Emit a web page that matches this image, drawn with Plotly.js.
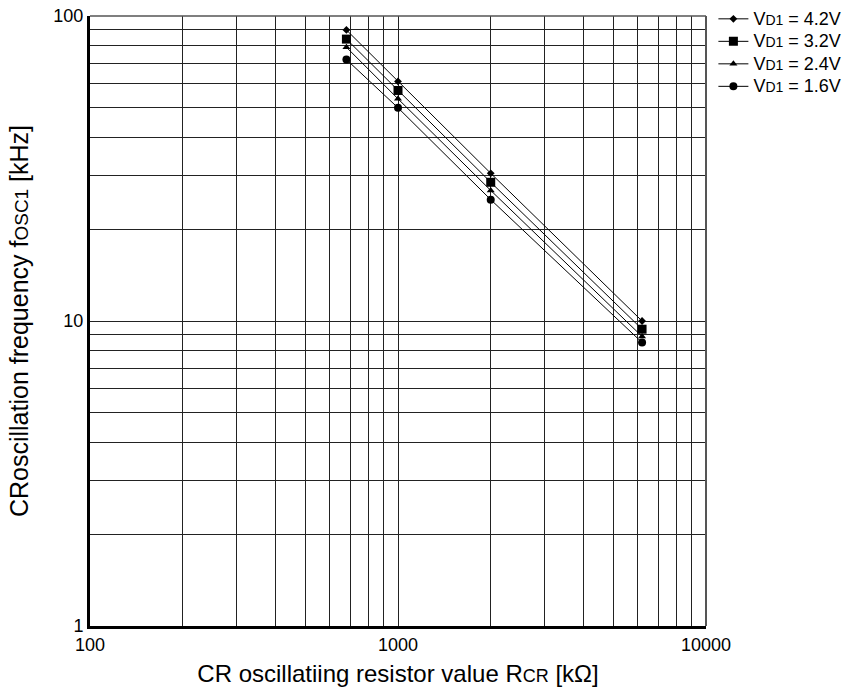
<!DOCTYPE html>
<html>
<head>
<meta charset="utf-8">
<script src="https://cdn.plot.ly/plotly-3.0.1.min.js"></script>
<style>html,body{margin:0;padding:0;background:#fff;}#chart{width:849px;height:697px;}</style>
</head>
<body>
<div id="chart"></div>
<script>
// Resistor values R_CR [kΩ]
const resistance = [680, 1000, 2000, 6200];
// Oscillation frequency fOSC1 [kHz] for each VD1
const freq42 = [90, 61, 30.5, 10.0];
const freq32 = [84, 57, 28.5, 9.4];
const freq24 = [79, 53.5, 26.8, 8.9];
const freq16 = [72, 50, 25.0, 8.5];
const seriesNames = ['4.2V', '3.2V', '2.4V', '1.6V'];
const xTickVals = [100, 1000, 10000];
const xTickText = ['100', '1000', '10000'];
const yTickVals = [1, 10, 100];
const yTickText = ['1', '10', '100'];

const seriesData = [freq42, freq32, freq24, freq16];
const symbols = ['diamond', 'square', 'triangle-up', 'circle'];
const sizes = [6, 9, 7, 8];

const traces = seriesData.map((ys, i) => ({
  x: resistance, y: ys, type: 'scatter', mode: 'lines+markers',
  name: '<span style="font-size:18px">V</span><span style="font-size:14px">D1</span><span style="font-size:18px"> = ' + seriesNames[i] + '</span>',
  line: {color: '#000', width: 1},
  marker: {symbol: symbols[i], size: sizes[i], color: '#000'}
}));

function minorVals(lo, hi) {
  const v = [];
  for (let d = lo; d < hi; d *= 10) for (let k = 2; k <= 9; k++) v.push(d * k);
  return v;
}

const gridC = '#222';
const layout = {
  width: 849, height: 697,
  margin: {l: 90, r: 143, t: 16, b: 71, autoexpand: false},
  paper_bgcolor: '#fff', plot_bgcolor: '#fff',
  font: {family: 'Liberation Sans, Arial, sans-serif', color: '#000', size: 18},
  showlegend: true,
  legend: {x: 1.012, y: 1.022, xanchor: 'left', yanchor: 'top', font: {size: 15},
           bgcolor: 'rgba(0,0,0,0)', tracegroupgap: 0, itemwidth: 30},
  xaxis: {
    type: 'log', range: [2, 4], tickmode: 'array', tickvals: xTickVals, ticktext: xTickText,
    ticks: '', showgrid: true, gridcolor: gridC, gridwidth: 1, automargin: false,
    minor: {tickmode: 'array', tickvals: minorVals(100, 10000), showgrid: true, gridcolor: gridC, gridwidth: 1, ticks: ''},
    showline: true, linecolor: '#000', linewidth: 3, mirror: false, zeroline: false,
    tickfont: {size: 18},
    title: {text: 'CR oscillatiing resistor value R<span style="font-size:18px">CR</span> [kΩ]', font: {size: 24}, standoff: 12}
  },
  yaxis: {
    type: 'log', range: [0, 2], tickmode: 'array', tickvals: yTickVals, ticktext: yTickText,
    ticks: '', showgrid: true, gridcolor: gridC, gridwidth: 1, automargin: false,
    minor: {tickmode: 'array', tickvals: minorVals(1, 100), showgrid: true, gridcolor: gridC, gridwidth: 1, ticks: ''},
    showline: true, linecolor: '#000', linewidth: 3, mirror: false, zeroline: false,
    tickfont: {size: 18},
    title: {text: 'CRoscillation frequency f<span style="font-size:19px">OSC1</span> [kHz]', font: {size: 25}, standoff: 18}
  },
  shapes: [
    {type: 'line', xref: 'paper', yref: 'paper', x0: 0, x1: 1, y0: 1, y1: 1, line: {color: '#555', width: 1.5}},
    {type: 'line', xref: 'paper', yref: 'paper', x0: 1, x1: 1, y0: 0, y1: 1, line: {color: '#555', width: 2}}
  ]
};

Plotly.newPlot('chart', traces, layout, {displayModeBar: false, staticPlot: true});
</script>
</body>
</html>
